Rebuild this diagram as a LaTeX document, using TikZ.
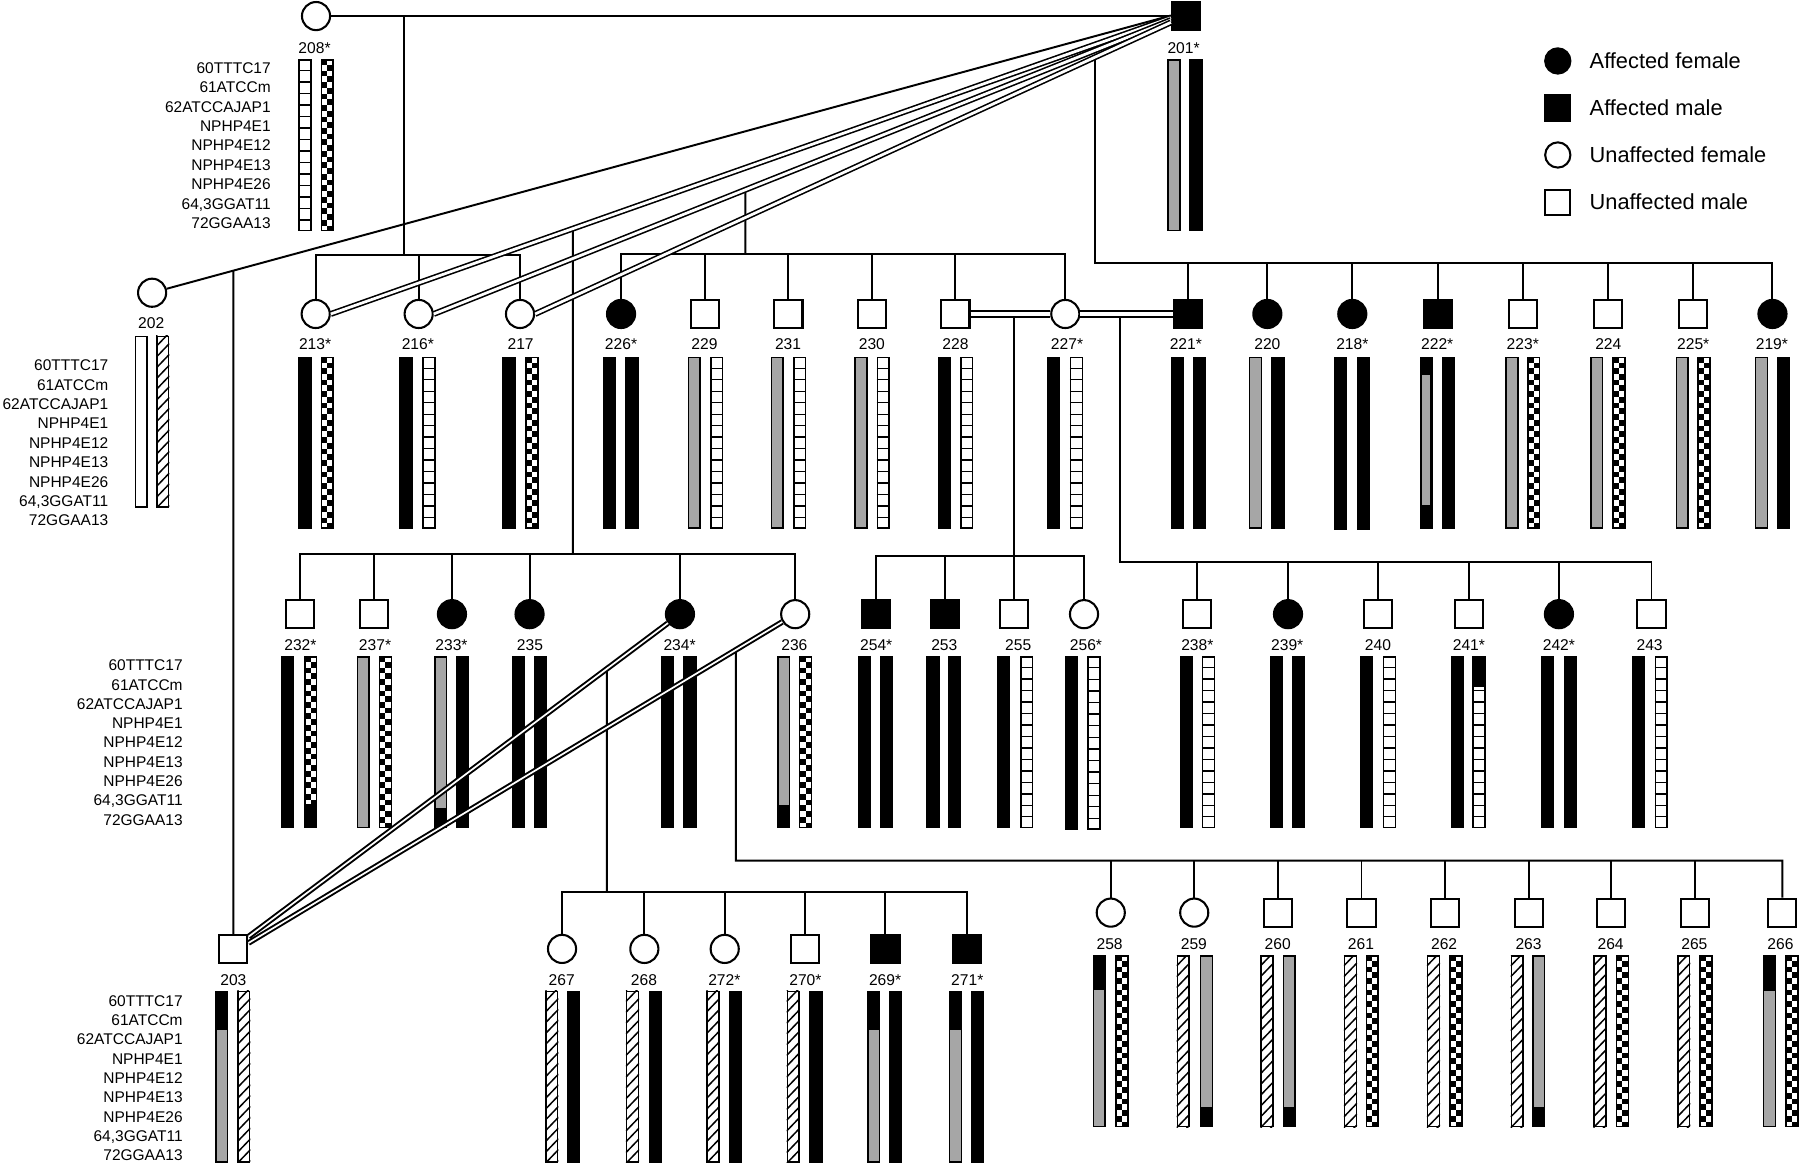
\documentclass[tikz,border=0pt]{standalone}
\usepackage{fontspec}
\setmainfont{Liberation Sans}
\definecolor{bargray}{RGB}{166,166,166}
\tikzset{
 pl/.style={line width=1.7pt},
 dbl/.style={double=white, double distance=2.4pt, line width=1.4pt},
 dblb/.style={double=white, double distance=4.2pt, line width=1.5pt},
 dblc/.style={double=white, double distance=1.5pt, line width=1.7pt},
 fem/.style={circle, draw, line width=1.8pt, minimum size=24.5pt, inner sep=0pt, fill=white},
 afem/.style={fem, fill=black},
 mal/.style={rectangle, draw, line width=1.8pt, minimum size=24.5pt, inner sep=0pt, fill=white},
 amal/.style={mal, fill=black},
 idl/.style={font=\fontsize{13.6}{15}\selectfont, inner sep=0pt, anchor=base},
 mkl/.style={font=\fontsize{13.5}{15}\selectfont, inner sep=0pt, anchor=base east},
 lgl/.style={font=\fontsize{19}{21}\selectfont, inner sep=0pt, anchor=base west},
}
\newcommand{\BarB}[3]{\fill[black] (#1,#2) rectangle ++(11.5,#3);}
\newcommand{\BarFr}[3]{\draw[line width=1.3pt] ({#1+0.65},{#2+0.65}) rectangle ({#1+10.85},{#2+#3-0.65});}
\newcommand{\BarW}[3]{\fill[white] (#1,#2) rectangle ++(11.5,#3);\BarFr{#1}{#2}{#3}}
\newcommand{\BarG}[3]{\fill[bargray] (#1,#2) rectangle ++(11.5,#3);\BarFr{#1}{#2}{#3}}
\newcommand{\BarS}[3]{\BarW{#1}{#2}{#3}\foreach \k in {1,...,14}{\draw[line width=1.2pt] (#1,{#2+\k*#3/15}) -- ++(11.5,0);}}
\newcommand{\BarC}[3]{\fill[white] (#1,#2) rectangle ++(11.5,#3);\foreach \k in {0,...,29}{\pgfmathsetmacro{\chkx}{mod(\k,2)*5.75}\fill[black] ({#1+\chkx},{#2+\k*#3/30}) rectangle ++(5.75,{#3/30});}\BarFr{#1}{#2}{#3}}
\newcommand{\BarH}[3]{\fill[white] (#1,#2) rectangle ++(11.5,#3);\begin{scope}\clip (#1,#2) rectangle ++(11.5,#3);\foreach \k in {0,...,18}{\draw[line width=1.3pt] (#1,{#2+\k*9.4}) -- ++(11.5,-12);}\end{scope}\BarFr{#1}{#2}{#3}}
\newcommand{\BarGT}[4]{\BarG{#1}{#2}{#3}\fill[black] (#1,#2) rectangle ({#1+11.5},#4);}
\newcommand{\BarGB}[4]{\BarG{#1}{#2}{#3}\fill[black] (#1,#4) rectangle ({#1+11.5},{#2+#3});}
\newcommand{\MarkerSet}[4]{\foreach \m [count=\i from 0] in {60TTTC17,61ATCCm,62ATCCAJAP1,NPHP4E1,NPHP4E12,NPHP4E13,NPHP4E26,{64,3GGAT11},72GGAA13}{\node[mkl] (mk#4\i) at (#1,{#2+\i*#3+5}) {\m};}}
\begin{document}
\begin{tikzpicture}[x=1pt,y=-1pt]
\useasboundingbox (0,0) rectangle (1568,1015);
% ---------- symbols ----------
\node[fem] (p208) at (275.3,14) {};
\node[amal] (p201) at (1033.3,14) {};
\node[fem] (p202) at (132.5,255) {};
\foreach \n/\x in {213/275,216/364.7,217/453,227/928} \node[fem] (p\n) at (\x,273.5) {};
\foreach \n/\x in {226/541,220/1104,218/1178,219/1544} \node[afem] (p\n) at (\x,273.5) {};
\foreach \n/\x in {229/614,231/686.8,230/759.7,228/832.3,223/1327,224/1401,225/1475} \node[mal] (p\n) at (\x,273.5) {};
\foreach \n/\x in {221/1035,222/1252.3} \node[amal] (p\n) at (\x,273.5) {};
\foreach \n/\x in {232/261,237/326,255/883.3,238/1043,240/1200.3,241/1279.3,243/1438.6} \node[mal] (p\n) at (\x,535) {};
\foreach \n/\x in {233/393.7,235/461.3,234/592.3,239/1122,242/1358} \node[afem] (p\n) at (\x,535) {};
\foreach \n/\x in {236/692.7,256/944.3} \node[fem] (p\n) at (\x,535) {};
\foreach \n/\x in {254/763,253/823} \node[amal] (p\n) at (\x,535) {};
\foreach \n/\x in {203/203.3,270/701.3} \node[mal] (p\n) at (\x,826.6) {};
\foreach \n/\x in {267/489.6,268/561.3,272/631.3} \node[fem] (p\n) at (\x,826.6) {};
\foreach \n/\x in {269/771.3,271/842.6} \node[amal] (p\n) at (\x,826.6) {};
\foreach \n/\x in {258/967.6,259/1040.3} \node[fem] (p\n) at (\x,795) {};
\foreach \n/\x in {260/1113.6,261/1186,262/1258.6,263/1332,264/1403.6,265/1476.3,266/1552.6} \node[mal] (p\n) at (\x,795) {};
% ---------- legend ----------
\node[afem, minimum size=22pt] (lg1) at (1357,53.1) {};
\node[amal, minimum size=22pt] (lg2) at (1357,94) {};
\node[fem, minimum size=22pt] (lg3) at (1357,135) {};
\node[mal, minimum size=22pt] (lg4) at (1357,176.3) {};
\node[lgl] (lt1) at (1384.6,59.9) {Affected female};
\node[lgl] (lt2) at (1384.6,100.6) {Affected male};
\node[lgl] (lt3) at (1384.6,141.8) {Unaffected female};
\node[lgl] (lt4) at (1384.6,182.5) {Unaffected male};
% ---------- ID labels ----------
\node[idl] (l208) at (274,46.3) {208*};
\node[idl] (l201) at (1031,46.3) {201*};
\node[idl] (l202) at (131.7,286.5) {202};
\foreach \t/\x in {213*/274.5,216*/364,217/453.5,226*/541,229/613.7,231/686.5,230/759.5,228/832.3,227*/929.5,221*/1033,220/1104,218*/1178,222*/1252,223*/1326.5,224/1401,225*/1475,219*/1543.5} \node[idl] (l\x) at (\x,304.8) {\t};
\foreach \t/\x in {232*/261.7,237*/326.7,233*/393.3,235/461.7,234*/592,236/692,254*/763.3,253/822.6,255/887,256*/946,238*/1043,239*/1121.3,240/1200.3,241*/1279.6,242*/1358,243/1437} \node[idl] (l\x) at (\x,566.7) {\t};
\foreach \t/\x in {203/203.3,267/489.3,268/561,272*/631,270*/701.6,269*/771,271*/842.6} \node[idl] (l\x) at (\x,858.4) {\t};
\foreach \t/\x in {258/966.6,259/1040,260/1113,261/1185.5,262/1258,263/1331.5,264/1403,265/1476,266/1551} \node[idl] (l\x) at (\x,827.1) {\t};
% ---------- marker labels ----------
\MarkerSet{236}{58.9}{16.89}{A}
\MarkerSet{94.5}{318}{16.88}{B}
\MarkerSet{159.3}{579.3}{16.8}{C}
\MarkerSet{159.3}{871.4}{16.84}{D}
% ---------- pedigree lines ----------
\coordinate (f0) at (1020,13.5);
\coordinate (f1) at (1020,15.5);
\coordinate (f2) at (1020,17.5);
\coordinate (f3) at (1020,19.5);
\draw[pl] (p208) -- (p201);
\coordinate (m1) at (351.7,14);
\coordinate (s1) at (351.7,222.4);
\draw[pl] (m1) -- (s1);
\draw[pl] (p213.north) -- (p213.north |- s1) -- (p217.north |- s1) -- (p217.north);
\draw[pl] (p216.north) -- (p216.north |- s1);
\draw[pl] (f0) -- (p202);
\coordinate (h0) at (intersection of f0--p202 and p203.north--p203.south);
\draw[pl] (h0) -- (p203.north);
\coordinate (d1) at (intersection of f1--p213.east and 499,0--499,300);
\coordinate (d2) at (intersection of f2--p216.east and 649.3,0--649.3,300);
\coordinate (d3) at (intersection of f3--p217.east and 953.6,0--953.6,300);
\coordinate (s4) at (499,482.6);
\draw[pl] (d1) -- (s4);
\draw[pl] (p232.north) -- (p232.north |- s4) -- (p236.north |- s4) -- (p236.north);
\foreach \n in {237,233,235,234} \draw[pl] (p\n.north) -- (p\n.north |- s4);
\coordinate (s2) at (649.3,221.2);
\draw[pl] (d2) -- (s2);
\draw[pl] (p226.north) -- (p226.north |- s2) -- (p227.north |- s2) -- (p227.north);
\foreach \n in {229,231,230,228} \draw[pl] (p\n.north) -- (p\n.north |- s2);
\coordinate (s3) at (953.6,229);
\draw[pl] (d3) -- (s3) -- (p219.north |- s3) -- (p219.north);
\foreach \n in {221,220,218,222,223,224,225} \draw[pl] (p\n.north) -- (p\n.north |- s3);
\coordinate (m5) at (883.6,273.5);
\coordinate (s5) at (883.6,484.3);
\draw[pl] (m5) -- (s5);
\draw[pl] (p254.north) -- (p254.north |- s5) -- (p256.north |- s5) -- (p256.north);
\foreach \n in {253,255} \draw[pl] (p\n.north) -- (p\n.north |- s5);
\coordinate (m6) at (976,273.5);
\coordinate (s6) at (976,489.3);
\draw[pl] (m6) -- (s6) -- (p243.north |- s6) -- (p243.north);
\foreach \n in {238,239,240,241,242} \draw[pl] (p\n.north) -- (p\n.north |- s6);
\draw[dblb] (p228) -- (p227);
\draw[dblb] (p227) -- (p221);
\draw[dbl] (f1) -- (p213.east);
\draw[dbl] (f2) -- (p216.east);
\draw[dbl] (f3) -- (p217.east);
\coordinate (g1) at ([yshift=-2.5pt]p203.north east);
\coordinate (g2) at ([yshift=-8pt]p203.north east);
\coordinate (d7) at (intersection of g1--p234 and 528.6,0--528.6,900);
\coordinate (d8) at (intersection of g2--p236 and 641,0--641,900);
\coordinate (s7) at (528.6,776.7);
\coordinate (s8) at (641,749.7);
\draw[pl] (d7) -- (s7);
\draw[pl] (p267.north) -- (p267.north |- s7) -- (p271.north |- s7) -- (p271.north);
\foreach \n in {268,272,270,269} \draw[pl] (p\n.north) -- (p\n.north |- s7);
\draw[pl] (d8) -- (s8) -- (p266.north |- s8) -- (p266.north);
\foreach \n in {258,259,260,261,262,263,264,265} \draw[pl] (p\n.north) -- (p\n.north |- s8);
% ---------- haplotype bars ----------
% row 1
\BarS{260}{51.5}{150} \BarC{279.3}{51.5}{150}
\BarG{1017}{51.5}{150} \BarB{1036}{51.5}{150}
\BarW{117.3}{292.5}{150} \BarH{136}{292.5}{150}
% row 2
\def\yb{310.8}
\BarB{260}{\yb}{150} \BarC{279.3}{\yb}{150}
\BarB{348}{\yb}{150} \BarS{368}{\yb}{150}
\BarB{437.7}{\yb}{150} \BarC{457.7}{\yb}{150}
\BarB{525.3}{\yb}{150} \BarB{544.7}{\yb}{150}
\BarG{599}{\yb}{150} \BarS{618.7}{\yb}{150}
\BarG{671.3}{\yb}{150} \BarS{691}{\yb}{150}
\BarG{744.3}{\yb}{150} \BarS{763.7}{\yb}{150}
\BarB{816.7}{\yb}{150} \BarS{836.3}{\yb}{150}
\BarB{912}{\yb}{150} \BarS{932}{\yb}{150}
\BarB{1020}{\yb}{150} \BarB{1039.3}{\yb}{150}
\BarG{1088}{\yb}{150} \BarB{1107.6}{\yb}{150}
\BarB{1162}{\yb}{151} \BarB{1182}{\yb}{151}
\BarB{1236.6}{\yb}{150} \fill[bargray] (1238.8,326.8) rectangle (1245.9,439.9); \BarB{1256}{\yb}{150}
\BarG{1311.3}{\yb}{150} \BarC{1330.3}{\yb}{150}
\BarG{1385.3}{\yb}{150} \BarC{1404.6}{\yb}{150}
\BarG{1459.6}{\yb}{150} \BarC{1478.6}{\yb}{150}
\BarG{1528.6}{\yb}{150} \BarB{1547.6}{\yb}{150}
% row 3
\def\yc{571.5}
\BarB{245}{\yc}{150} \BarC{265}{\yc}{150} \fill[black] (265,700) rectangle (276.5,721.5);
\BarG{310.7}{\yc}{150} \BarC{330}{\yc}{150}
\BarGB{378.3}{\yc}{150}{703.6} \BarB{397.3}{\yc}{150}
\BarB{445.7}{\yc}{150} \BarB{465}{\yc}{150}
\BarB{576}{\yc}{150} \BarB{595.3}{\yc}{150}
\BarGB{677}{\yc}{150}{701.2} \BarC{696}{\yc}{150}
\BarB{747.6}{\yc}{150} \BarB{766.6}{\yc}{150}
\BarB{807}{\yc}{150} \BarB{826}{\yc}{150}
\BarB{868.6}{\yc}{150} \BarS{888.6}{\yc}{150}
\BarB{927.6}{\yc}{151.5} \BarS{947.3}{\yc}{151.5}
\BarB{1027.6}{\yc}{150} \BarS{1047}{\yc}{150}
\BarB{1106}{\yc}{150} \BarB{1125.3}{\yc}{150}
\BarB{1184.6}{\yc}{150} \BarS{1204.6}{\yc}{150}
\BarB{1263.6}{\yc}{150} \BarS{1282.6}{\yc}{150} \fill[black] (1282.6,\yc) rectangle (1294.1,598.2);
\BarB{1342.6}{\yc}{150} \BarB{1362}{\yc}{150}
\BarB{1421.3}{\yc}{150} \BarS{1441.3}{\yc}{150}
% row 4
\def\yd{863}
\BarGT{187.3}{\yd}{150}{897.2} \BarH{206.7}{\yd}{150}
\BarH{475}{\yd}{150} \BarB{494}{\yd}{150}
\BarH{545.3}{\yd}{150} \BarB{565.3}{\yd}{150}
\BarH{615.3}{\yd}{150} \BarB{635}{\yd}{150}
\BarH{685.3}{\yd}{150} \BarB{705}{\yd}{150}
\BarGT{755.3}{\yd}{150}{897.2} \BarB{774.3}{\yd}{150}
\BarGT{826.6}{\yd}{150}{897.2} \BarB{846}{\yd}{150}
\def\ye{832}
\BarGT{951.9}{\ye}{150}{862.5} \BarC{971.6}{\ye}{150}
\BarH{1025}{\ye}{150} \BarGB{1045.3}{\ye}{150}{964}
\BarH{1098}{\ye}{150} \BarGB{1117.3}{\ye}{150}{964}
\BarH{1170.6}{\ye}{150} \BarC{1189.6}{\ye}{150}
\BarH{1243}{\ye}{150} \BarC{1262.6}{\ye}{150}
\BarH{1316}{\ye}{150} \BarGB{1334.6}{\ye}{150}{964}
\BarH{1388}{\ye}{150} \BarC{1407.6}{\ye}{150}
\BarH{1461}{\ye}{150} \BarC{1480.3}{\ye}{150}
\BarGT{1535.6}{\ye}{150}{863.2} \BarC{1555.3}{\ye}{150}
% ---------- matings of 203 (drawn over the bars) ----------
\draw[dblc] (g1) -- (p234);
\draw[dblc] (g2) -- (p236);
\end{tikzpicture}
\end{document}
